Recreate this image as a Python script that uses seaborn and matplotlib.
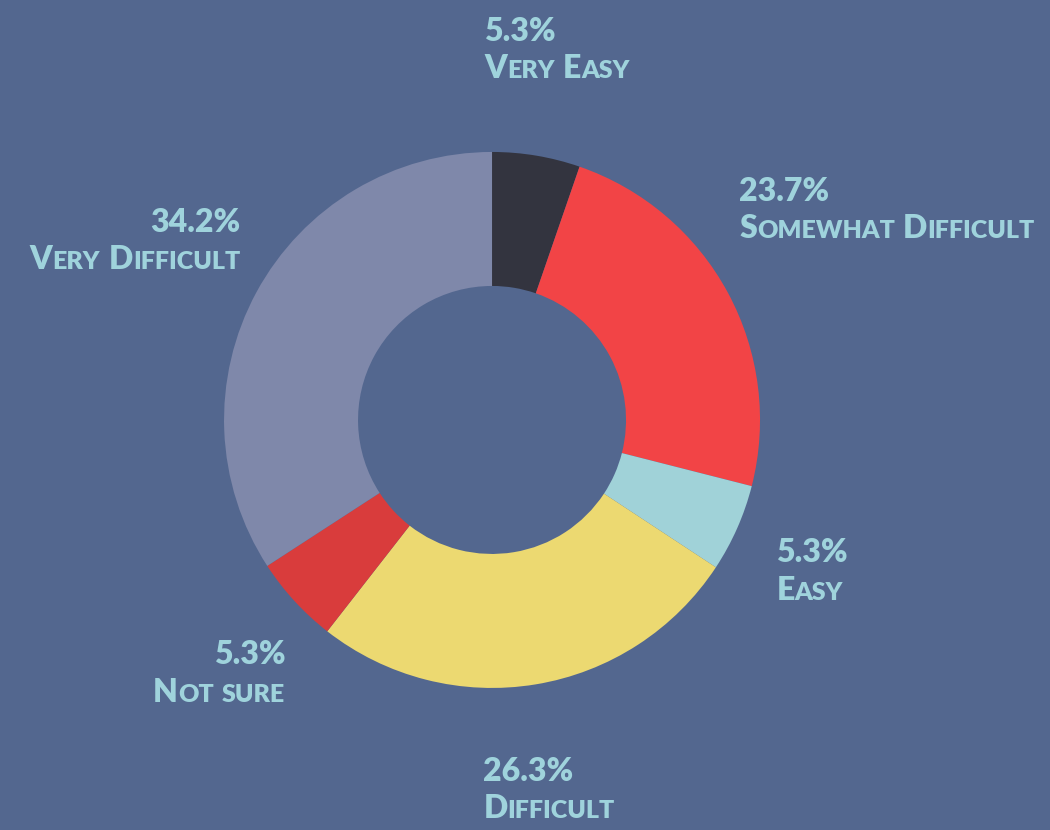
import matplotlib
matplotlib.use("Agg")
import numpy as np
import matplotlib.pyplot as plt
import seaborn as sns
from matplotlib.offsetbox import TextArea, HPacker, VPacker, AnnotationBbox

categories = ['Very Easy', 'Somewhat Difficult', 'Easy', 'Difficult', 'Not sure', 'Very Difficult']
shares = [5.3, 23.7, 5.3, 26.3, 5.3, 34.2]
colors = ['#33343f', '#f24446', '#a0d2d8', '#ecd971', '#d93c3c', '#7f88aa']

bg = '#53678f'
txt = '#9fd3dc'

sns.set_theme(style='white', rc={'figure.facecolor': bg, 'axes.facecolor': bg})
plt.rcParams['font.family'] = ['Lato', 'DejaVu Sans']

BIG, SMALL = 23, 18
WEIGHT = 'heavy'

# small nudges so the long labels sit like the original
nudge = {'Somewhat Difficult': (-0.05, 0.12), 'Easy': (0.04, 0.0), 'Very Difficult': (0.03, 0.0)}


def smallcaps(text):
    words = []
    for word in text.split(' '):
        runs = []
        for ch in word:
            low = ch.islower()
            if runs and runs[-1][0] == low:
                runs[-1][1] += ch
            else:
                runs.append([low, ch])
        parts = [TextArea(s.upper(), textprops=dict(fontsize=SMALL if low else BIG,
                                                    color=txt, fontweight=WEIGHT))
                 for low, s in runs]
        words.append(HPacker(children=parts, align='baseline', pad=0, sep=0))
    return HPacker(children=words, align='baseline', pad=0, sep=6)


fig = plt.figure(figsize=(10.5, 8.3), dpi=100)
ax = fig.add_axes([0, 0, 1, 1])
ax.pie(shares, colors=colors, startangle=90, counterclock=False, radius=1,
       wedgeprops=dict(width=0.5, linewidth=0))
ax.set_xlim(-1.836, 2.082)
ax.set_ylim(-1.530, 1.567)
ax.set_aspect('equal')
ax.axis('off')

total = sum(shares)
start = 0
for name, val in zip(categories, shares):
    mid = (start + val / 2) / total * 2 * np.pi
    start += val
    r = 1.4
    x, y = r * np.sin(mid), r * np.cos(mid)
    right = np.sin(mid) >= 0
    x += -0.26 if right else 0.26
    dx, dy = nudge.get(name, (0, 0))
    x, y = x + dx, y + dy
    pct = TextArea(f'{val:.1f}%', textprops=dict(fontsize=BIG, color=txt, fontweight=WEIGHT))
    box = VPacker(children=[pct, smallcaps(name)], align='left' if right else 'right',
                  pad=0, sep=6)
    ab = AnnotationBbox(box, (x, y), xycoords='data', frameon=False, pad=0,
                        box_alignment=(0, 0.5) if right else (1, 0.5))
    ax.add_artist(ab)

fig.savefig('out.png', dpi=100, facecolor=bg)
